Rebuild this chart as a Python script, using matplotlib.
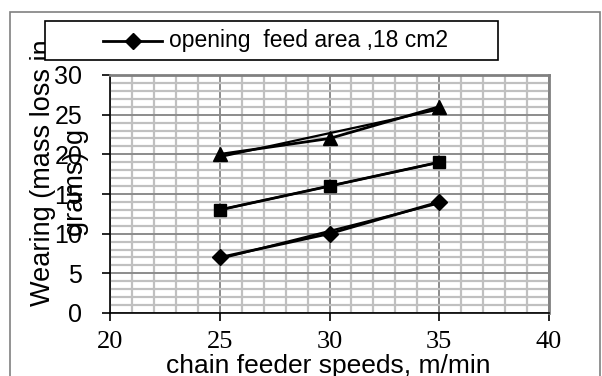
import numpy as np
import matplotlib.pyplot as plt
from matplotlib.patches import Rectangle
from matplotlib.ticker import MultipleLocator

# chain feeder speed (m/min) and wear (g) for three series
speeds = [25, 30, 35]
wear_diamond = [7, 10, 14]
wear_square = [13, 16, 19]
wear_triangle = [20, 22, 26]

legend_label = "opening  feed area ,18 cm2"
x_label = "chain feeder speeds, m/min"
y_label_lines = ["Wearing (mass loss in", "grams) g"]

W, H = 602, 376
fig = plt.figure(figsize=(W / 100, H / 100), dpi=100)

# outer chart border
fig.patches.append(Rectangle((10 / W, -0.05), (600 - 10) / W, (H - 12) / H + 0.05,
                             transform=fig.transFigure, fill=False,
                             edgecolor='#808080', linewidth=1.2))

left, right, top, bottom = 110, 549, 75, 313
ax = fig.add_axes([left / W, (H - bottom) / H, (right - left) / W, (bottom - top) / H])

ax.set_xlim(20, 40)
ax.set_ylim(0, 30)
ax.xaxis.set_major_locator(MultipleLocator(5))
ax.xaxis.set_minor_locator(MultipleLocator(1))
ax.yaxis.set_major_locator(MultipleLocator(5))
ax.yaxis.set_minor_locator(MultipleLocator(1))
ax.grid(which='minor', color='#c0c0c0', linewidth=1.6)
ax.grid(which='major', color='#8c8c8c', linewidth=1.4)
ax.set_axisbelow(True)
ax.tick_params(which='minor', length=0)
ax.tick_params(which='major', direction='out', length=6, width=1.2, color='black')
ax.tick_params(axis='y', labelsize=18, pad=14)
ax.tick_params(axis='x', labelsize=19, pad=7)
for lbl in ax.get_xticklabels():
    lbl.set_fontfamily('Liberation Serif')
for lbl in ax.get_yticklabels():
    lbl.set_fontfamily('Liberation Sans')

for side in ['top', 'right']:
    ax.spines[side].set_color('#808080')
    ax.spines[side].set_linewidth(2)
for side in ['left', 'bottom']:
    ax.spines[side].set_color('black')
    ax.spines[side].set_linewidth(1.2)

series = [(wear_diamond, 'D', 8), (wear_square, 's', 9), (wear_triangle, '^', 10)]
for vals, mk, ms in series:
    ax.plot(speeds, vals, color='black', linewidth=2, marker=mk,
            markersize=ms, zorder=4)
    # linear trendline through the same points
    k, b = np.polyfit(speeds, vals, 1)
    xs = np.array([speeds[0], speeds[-1]])
    ax.plot(xs, k * xs + b, color='black', linewidth=1.6, zorder=3)

fig.text(328 / W, (H - 373) / H, x_label, ha='center', va='baseline',
         fontsize=19, fontfamily='Liberation Sans')

# y label: two lines, the second one sits over the tick labels as in the source
fig.text(43 / W, (H - 173) / H, y_label_lines[0], rotation=90, ha='center', va='center',
         fontsize=19.5, fontfamily='Liberation Sans')
fig.text(76 / W, (H - 182) / H, y_label_lines[1], rotation=90, ha='center', va='center',
         fontsize=19.5, fontfamily='Liberation Sans')

# legend box
fig.patches.append(Rectangle((45 / W, (H - 60) / H), (498 - 45) / W, 39 / H,
                             transform=fig.transFigure, facecolor='white',
                             edgecolor='black', linewidth=1.2, zorder=5))
lx = np.array([103, 162]) / W
ly = (H - 41) / H
fig.lines.append(plt.Line2D(lx, [ly, ly], transform=fig.transFigure, color='black',
                            linewidth=2, zorder=6))
fig.lines.append(plt.Line2D([133 / W], [ly], transform=fig.transFigure, color='black',
                            marker='D', markersize=8, zorder=7))
fig.text(169 / W, ly, legend_label, ha='left', va='center', fontsize=16.5,
         fontfamily='Liberation Sans', zorder=7)

fig.savefig('out.png', dpi=100)
